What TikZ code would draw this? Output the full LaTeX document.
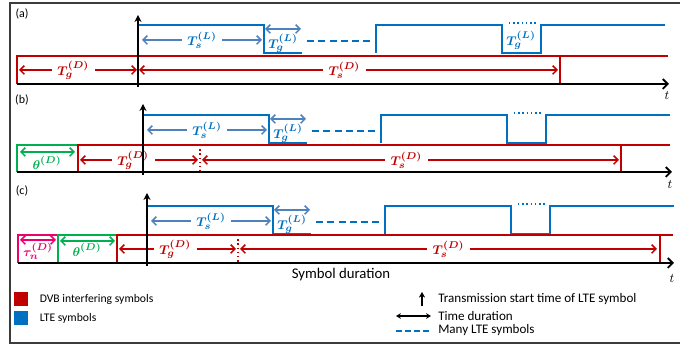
\documentclass[tikz,border=0pt]{standalone}
\usepackage{fontspec}
\setmainfont{Carlito}
\usepackage{bm}
\usetikzlibrary{arrows.meta,positioning}
\definecolor{dvbred}{RGB}{192,0,0}
\definecolor{lteblue}{RGB}{0,112,192}
\definecolor{spanblue}{RGB}{79,129,189}
\definecolor{thetagreen}{RGB}{0,176,80}
\definecolor{taupink}{RGB}{236,0,110}
\definecolor{framegray}{RGB}{60,60,60}

\begin{document}
\begin{tikzpicture}[x=0.025cm,y=-0.025cm,
dvb/.style={dvbred,line width=1.3pt},
lte/.style={lteblue,line width=1.5pt},
span/.style={line width=1.1pt,
  {Straight Barb[length=3pt,width=6pt]}-{Straight Barb[length=3pt,width=6pt]}},
timeaxis/.style={black,line width=1.3pt,-{Straight Barb[length=3.5pt,width=7pt]}},
start/.style={black,line width=1pt,-{Stealth[length=5pt,width=5pt]}},
sym/.style={font=\fontsize{9.5}{11}\selectfont,inner sep=1pt},
cut/.style={sym,fill=white,inner xsep=4pt},
tag/.style={font=\fontsize{8.5}{10}\selectfont,inner sep=0pt},
legend/.style={font=\fontsize{8.3}{10}\selectfont,inner sep=0pt,anchor=west},
key/.style={minimum size=0.35cm,inner sep=0pt}
]
\useasboundingbox (0,0) rectangle (680,346);
\draw[framegray,line width=1pt] (682,3) -- (10,3) -- (10,343) -- (682,343);

% LTE symbols, same in the three cases
\foreach \dx/\dy/\p in {0/0/a,5/90/b,9/181/c} {
\begin{scope}[shift={(\dx,\dy)}]
\draw[lte] (138,53) -- (138,25) -- (264,25) -- (264,53) -- (302,53);
\draw[lte,dashed,dash pattern=on 5pt off 3pt] (307,41) -- (372,41);
\draw[lte] (376,53) -- (376,25) -- (502,25) -- (502,53) -- (541,53) -- (541,25) -- (665,25);
\draw[lte,line width=1pt,dotted] (509,23) -- (537,23);
\draw[span,spanblue] (142,40) -- (262,40)
  node (ts\p) [cut,text=lteblue,midway] {$\bm{T_s^{(L)}}$};
\draw[span,spanblue] (265,29) -- (301,29);
\node (tg\p) [sym,text=lteblue] at (283,43) {$\bm{T_g^{(L)}}$};
\end{scope}
}
\node (tgap) [sym,text=lteblue] at (521,40) {$\bm{T_g^{(L)}}$};

% (a)
\node (la) [tag] at (22,14) {(a)};
\draw[dvb] (17,84) -- (17,56) -- (668,56);
\draw[dvb] (560,56) -- (560,84);
\draw[span,dvb,line width=1.1pt] (19,70) -- (137,70)
  node (tgda) [cut,text=dvbred,pos=0.46] {$\bm{T_g^{(D)}}$};
\draw[span,dvb,line width=1.1pt] (139,70) -- (558,70)
  node (tsda) [cut,text=dvbred,pos=0.49] {$\bm{T_s^{(D)}}$};
\draw[timeaxis] (17,84) -- (669,84);
\draw[start] (138,87) -- (138,15);
\node (ta) [sym] at (667,96) {$t$};

% (b)
\node (lb) [tag] at (22,100) {(b)};
\draw[thetagreen,line width=1.3pt] (17,172) -- (17,145) -- (78,145);
\draw[span,thetagreen] (20,152) -- (75,152);
\node (thb) [sym,text=thetagreen] at (47,163) {$\bm{\theta^{(D)}}$};
\draw[dvb] (78,172) -- (78,145) -- (670,145);
\draw[dvb] (621,145) -- (621,172);
\draw[dvbred,line width=1pt,dotted] (200,145) -- (200,172);
\draw[span,dvb,line width=1.1pt] (80,160) -- (198,160)
  node (tgdb) [cut,text=dvbred,pos=0.45] {$\bm{T_g^{(D)}}$};
\draw[span,dvb,line width=1.1pt] (202,160) -- (619,160)
  node (tsdb) [cut,text=dvbred,pos=0.49] {$\bm{T_s^{(D)}}$};
\draw[timeaxis] (17,172) -- (672,172);
\draw[start] (143,175) -- (143,104);
\node (tb) [sym] at (670,185) {$t$};

% (c)
\node (lc) [tag] at (22,191) {(c)};
\draw[taupink,line width=1.3pt] (18,263) -- (18,235) -- (58,235);
\draw[span,taupink] (20,240) -- (56,240);
\node (tauc) [sym,text=taupink] at (38,251) {$\bm{\tau_n^{(D)}}$};
\draw[thetagreen,line width=1.3pt] (58,263) -- (58,235) -- (117,235);
\draw[span,thetagreen] (60,241) -- (115,241);
\node (thc) [sym,text=thetagreen] at (87,250) {$\bm{\theta^{(D)}}$};
\draw[dvb] (117,263) -- (117,235) -- (673,235);
\draw[dvb] (660,235) -- (660,263);
\draw[dvbred,line width=1pt,dotted] (238,235) -- (238,263);
\draw[span,dvb,line width=1.1pt] (119,249) -- (236,249)
  node (tgdc) [cut,text=dvbred,pos=0.48] {$\bm{T_g^{(D)}}$};
\draw[span,dvb,line width=1.1pt] (240,249) -- (657,249)
  node (tsdc) [cut,text=dvbred,pos=0.5] {$\bm{T_s^{(D)}}$};
\draw[timeaxis] (18,263) -- (674,263);
\draw[start] (147,266) -- (147,193);
\node (tc) [sym] at (672,279) {$t$};

\node (dur) [font=\fontsize{10.5}{12}\selectfont,inner sep=0pt] at (341,275) {Symbol duration};

% legend
\node (kdvb) [key,fill=dvbred] at (21,299) {};
\node (kdvbt) [legend,right=0.28cm of kdvb] {DVB interfering symbols};
\node (klte) [key,fill=lteblue,below=0.12cm of kdvb] {};
\node (kltet) [legend,right=0.28cm of klte] {LTE symbols};

\coordinate (up0) at (422,306);
\coordinate (up1) at (422,292);
\draw[black,line width=1pt,-{Stealth[length=4pt,width=4.5pt]}] (up0) -- (up1);
\node (kup) [legend,font=\fontsize{9.3}{11}\selectfont] at (438,299) {Transmission start time of LTE symbol};
\coordinate (du0) at (396,316);
\coordinate (du1) at (431,316);
\draw[black,line width=0.9pt,{Stealth[length=3.5pt,width=4pt]}-{Stealth[length=3.5pt,width=4pt]}] (du0) -- (du1);
\node (kdu) [legend,font=\fontsize{9.3}{11}\selectfont] at (438,316) {Time duration};
\coordinate (ma0) at (396,331);
\coordinate (ma1) at (430,331);
\draw[lte,line width=1pt,dash pattern=on 4pt off 2.5pt] (ma0) -- (ma1);
\node (kma) [legend,font=\fontsize{9.3}{11}\selectfont] at (438,330) {Many LTE symbols};
\end{tikzpicture}
\end{document}
